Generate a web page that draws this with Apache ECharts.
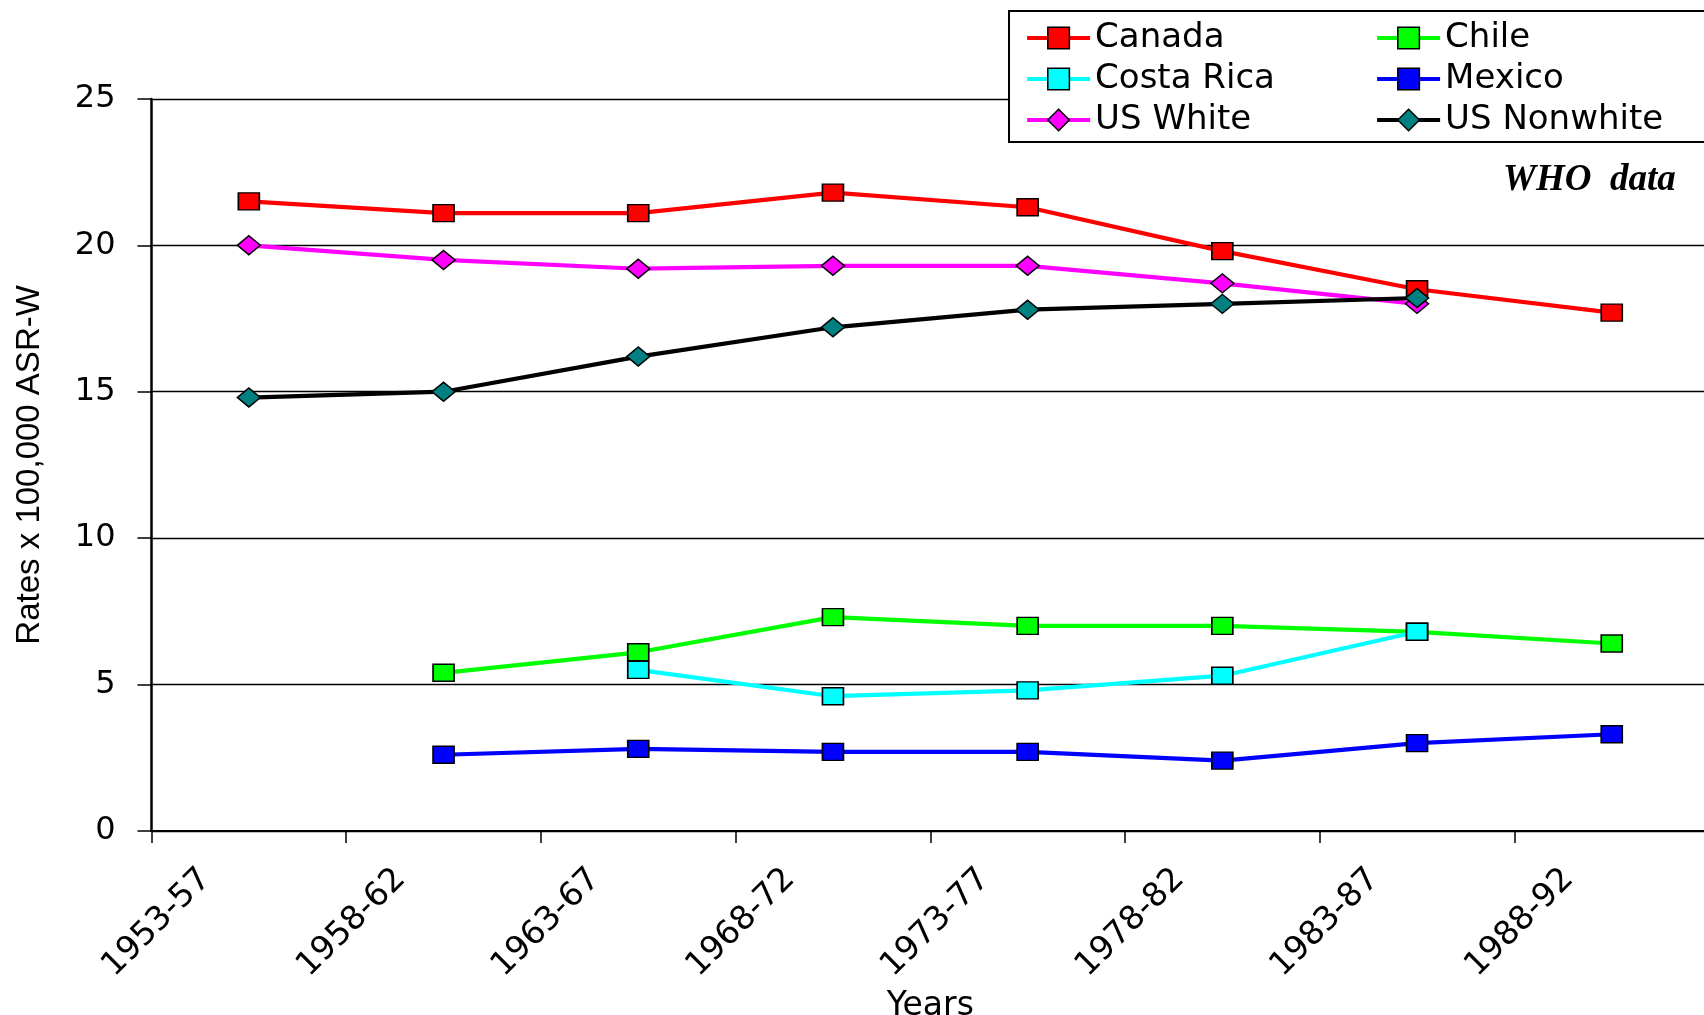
<!DOCTYPE html>
<html>
<head>
<meta charset="utf-8">
<script src="https://cdn.jsdelivr.net/npm/echarts@6/dist/echarts.min.js"></script>
<style>
html,body{margin:0;padding:0;background:#fff;}
#chart{width:1704px;height:1015px;}
</style>
</head>
<body>
<div id="chart"></div>
<script>
const categories = ['1953-57','1958-62','1963-67','1968-72','1973-77','1978-82','1983-87','1988-92'];
const canada     = [21.5, 21.1, 21.1, 21.8, 21.3, 19.8, 18.5, 17.7];
const chile      = [null, 5.4, 6.1, 7.3, 7.0, 7.0, 6.8, 6.4];
const costaRica  = [null, null, 5.5, 4.6, 4.8, 5.3, 6.8, null];
const mexico     = [null, 2.6, 2.8, 2.7, 2.7, 2.4, 3.0, 3.3];
const usWhite    = [20.0, 19.5, 19.2, 19.3, 19.3, 18.7, 18.0, null];
const usNonwhite = [14.8, 15.0, 16.2, 17.2, 17.8, 18.0, 18.2, null];
const yTicks = {min: 0, max: 25, interval: 5};

const chart = echarts.init(document.getElementById('chart'), null, {renderer: 'canvas'});

function mk(name, data, fill, lineColor, symbol, size) {
  return {
    name: name, type: 'line', data: data,
    symbol: symbol, symbolSize: size,
    showAllSymbol: true, connectNulls: false,
    lineStyle: {color: lineColor, width: 4.2},
    itemStyle: {color: fill, borderColor: '#000', borderWidth: 1.5},
    emphasis: {disabled: true},
    animation: false
  };
}

const legendText = {fontFamily: 'DejaVu Sans', fontSize: 34, color: '#000', lineHeight: 34};
const legendCommon = {
  orient: 'vertical', top: 21, padding: 0,
  itemWidth: 63, itemHeight: 27, itemGap: 7,
  lineStyle: {width: 4.2, color: 'inherit'},
  itemStyle: {borderColor: '#000', borderWidth: 1.5},
  textStyle: legendText, z: 20, selectedMode: false
};

chart.setOption({
  backgroundColor: '#fff',
  animation: false,
  grid: {left: 151.5, top: 98.9, width: 1557.6, height: 732, containLabel: false, outerBoundsMode: 'none'},
  xAxis: {
    type: 'category', data: categories, boundaryGap: true,
    name: 'Years', nameLocation: 'middle', nameGap: 154,
    nameTextStyle: {fontFamily: 'DejaVu Sans', fontSize: 33, color: '#000'},
    axisLine: {show: true, lineStyle: {color: '#000', width: 2}},
    axisTick: {show: true, inside: false, length: 12, alignWithLabel: false, lineStyle: {color: '#000', width: 1.5}},
    axisLabel: {rotate: 45, margin: 0, padding: [0, 61, 0, 0], fontFamily: 'DejaVu Sans', fontSize: 33, color: '#000', interval: 0, hideOverlap: false},
    splitLine: {show: false}
  },
  yAxis: {
    type: 'value', min: yTicks.min, max: yTicks.max, interval: yTicks.interval,
    name: 'Rates x 100,000 ASR-W', nameLocation: 'middle', nameRotate: 90, nameGap: 105,
    nameTextStyle: {fontFamily: 'Liberation Sans', fontSize: 33, color: '#000'},
    axisLine: {show: true, lineStyle: {color: '#000', width: 2.5}},
    axisTick: {show: true, inside: false, length: 14, lineStyle: {color: '#000', width: 1.5}},
    axisLabel: {margin: 36, fontFamily: 'DejaVu Sans', fontSize: 32, color: '#000'},
    splitLine: {show: true, lineStyle: {color: '#000', width: 1.3}}
  },
  legend: [
    Object.assign({data: ['Canada', 'Costa Rica', 'US White'], left: 1025}, legendCommon),
    Object.assign({data: ['Chile', 'Mexico', 'US Nonwhite'], left: 1375}, legendCommon)
  ],
  graphic: [
    {type: 'rect', z: 10, shape: {x: 1009, y: 11, width: 710, height: 131},
     style: {fill: '#fff', stroke: '#000', lineWidth: 2}},
    {type: 'text', z: 10, x: 1503, y: 180,
     style: {text: 'WHO  data', fontFamily: 'Liberation Serif', fontSize: 37, fontWeight: 'bold', fontStyle: 'italic',
             fill: '#000', verticalAlign: 'middle', align: 'left'}}
  ],
  series: [
    mk('Canada', canada, '#FF0000', '#FF0000', 'rect', [21, 17]),
    mk('Chile', chile, '#00FF00', '#00FF00', 'rect', [21, 17]),
    mk('Costa Rica', costaRica, '#00FFFF', '#00FFFF', 'rect', [21, 17]),
    mk('Mexico', mexico, '#0000FF', '#0000FF', 'rect', [21, 17]),
    mk('US White', usWhite, '#FF00FF', '#FF00FF', 'diamond', [23, 19]),
    mk('US Nonwhite', usNonwhite, '#008080', '#000000', 'diamond', [23, 19])
  ]
});
</script>
</body>
</html>
